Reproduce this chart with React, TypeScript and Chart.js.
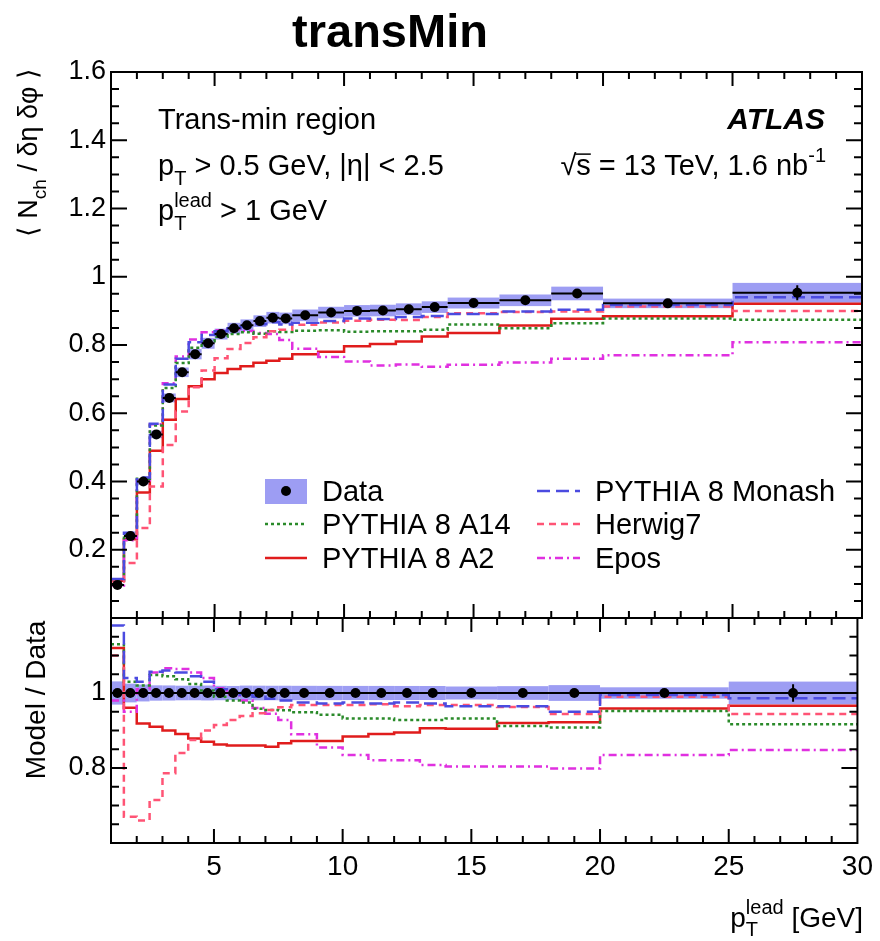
import React, { useEffect, useRef } from 'react';
import { Chart, registerables } from 'chart.js';
Chart.register(...registerables);

const FONT = '"Liberation Sans", Arial, Helvetica, sans-serif';
const FS = 29;
const TICK_FS = 27;

// ---------- data ----------
const binEdges = [1, 1.5, 2, 2.5, 3, 3.5, 4, 4.5, 5, 5.5, 6, 6.5, 7, 7.5, 8, 9, 10, 11, 12, 13, 14, 16, 18, 20, 25, 30];

const dataValues = [0.097, 0.24, 0.40, 0.538, 0.645, 0.72, 0.773, 0.805, 0.832, 0.849, 0.858, 0.870, 0.880, 0.878, 0.887, 0.895, 0.900, 0.901, 0.905, 0.911, 0.923, 0.931, 0.951, 0.922, 0.953];
const dataStat = [0.001, 0.001, 0.001, 0.002, 0.002, 0.002, 0.002, 0.002, 0.002, 0.002, 0.002, 0.003, 0.003, 0.003, 0.003, 0.003, 0.003, 0.004, 0.004, 0.005, 0.005, 0.006, 0.008, 0.008, 0.022];
const dataSyst = [0.003, 0.006, 0.009, 0.011, 0.013, 0.014, 0.015, 0.016, 0.016, 0.016, 0.017, 0.017, 0.017, 0.017, 0.017, 0.017, 0.017, 0.017, 0.017, 0.017, 0.016, 0.017, 0.020, 0.014, 0.029];

const monashTop = [0.114, 0.250, 0.412, 0.569, 0.684, 0.760, 0.808, 0.829, 0.840, 0.849, 0.854, 0.861, 0.867, 0.860, 0.865, 0.870, 0.878, 0.876, 0.882, 0.885, 0.891, 0.898, 0.903, 0.917, 0.940];
const a14Top = [0.110, 0.247, 0.408, 0.564, 0.674, 0.747, 0.792, 0.811, 0.824, 0.832, 0.837, 0.833, 0.840, 0.838, 0.842, 0.843, 0.839, 0.840, 0.840, 0.845, 0.860, 0.849, 0.864, 0.878, 0.874];
const a2Top = [0.109, 0.231, 0.368, 0.490, 0.581, 0.642, 0.679, 0.700, 0.718, 0.730, 0.738, 0.748, 0.754, 0.760, 0.773, 0.780, 0.796, 0.803, 0.810, 0.825, 0.835, 0.857, 0.877, 0.884, 0.921];
const herwigTop = [0.107, 0.161, 0.264, 0.385, 0.507, 0.605, 0.676, 0.725, 0.761, 0.788, 0.806, 0.823, 0.840, 0.845, 0.859, 0.866, 0.871, 0.874, 0.873, 0.882, 0.893, 0.897, 0.898, 0.913, 0.900];
const eposTop = [0.095, 0.228, 0.404, 0.568, 0.688, 0.766, 0.816, 0.837, 0.843, 0.846, 0.841, 0.835, 0.832, 0.815, 0.789, 0.765, 0.752, 0.740, 0.743, 0.736, 0.742, 0.749, 0.760, 0.770, 0.808];

const monashRatio = [1.18, 1.04, 1.03, 1.057, 1.06, 1.055, 1.045, 1.03, 1.01, 1.0, 0.995, 0.99, 0.985, 0.98, 0.975, 0.972, 0.975, 0.972, 0.975, 0.972, 0.965, 0.965, 0.95, 0.995, 0.986];
const a14Ratio = [1.13, 1.03, 1.02, 1.048, 1.045, 1.037, 1.024, 1.007, 0.99, 0.98, 0.975, 0.958, 0.955, 0.954, 0.949, 0.942, 0.932, 0.932, 0.928, 0.928, 0.932, 0.912, 0.908, 0.952, 0.917];
const a2Ratio = [1.12, 0.961, 0.919, 0.91, 0.90, 0.891, 0.879, 0.87, 0.863, 0.86, 0.86, 0.86, 0.857, 0.866, 0.872, 0.872, 0.884, 0.891, 0.895, 0.906, 0.905, 0.92, 0.922, 0.959, 0.966];
const herwigRatio = [1.10, 0.67, 0.66, 0.715, 0.786, 0.84, 0.875, 0.90, 0.915, 0.928, 0.939, 0.946, 0.955, 0.962, 0.968, 0.968, 0.968, 0.97, 0.965, 0.968, 0.968, 0.963, 0.944, 0.99, 0.944];
const eposRatio = [0.98, 0.95, 1.01, 1.055, 1.066, 1.064, 1.055, 1.04, 1.013, 0.996, 0.98, 0.96, 0.945, 0.928, 0.89, 0.855, 0.835, 0.821, 0.821, 0.808, 0.804, 0.804, 0.799, 0.835, 0.848];

const topYLabels = [0.2, 0.4, 0.6, 0.8, 1, 1.2, 1.4, 1.6];
const ratioYLabels = [0.8, 1];
const xTickLabels = [5, 10, 15, 20, 25, 30];

// ---------- style ----------
const BAND = '#9d9df3';
const models = [
  { key: 'monash', label: 'PYTHIA 8 Monash', top: monashTop, ratio: monashRatio, color: '#4b4be0', dash: [13, 6] },
  { key: 'herwig', label: 'Herwig7', top: herwigTop, ratio: herwigRatio, color: '#ff5475', dash: [7, 5] },
  { key: 'a14', label: 'PYTHIA 8 A14', top: a14Top, ratio: a14Ratio, color: '#2a8a2a', dash: [3, 3] },
  { key: 'epos', label: 'Epos', top: eposTop, ratio: eposRatio, color: '#e030e0', dash: [8, 4, 2, 4] },
  { key: 'a2', label: 'PYTHIA 8 A2', top: a2Top, ratio: a2Ratio, color: '#e01c1c', dash: [] as number[] },
];

const W = 880, H = 941;
const TOP_T = 72, SPLIT = 618, BOT_B = 843, PLOT_L = 111, PLOT_R = 862;

const centers = binEdges.slice(0, -1).map((e, i) => (e + binEdges[i + 1]) / 2);
const ratioOnes = dataValues.map((v) => v / v);
const ratioStat = dataStat.map((s, i) => s / dataValues[i]);
const ratioSyst = dataSyst.map((s, i) => s / dataValues[i]);

function hist(values: number[]) {
  const pts: { x: number; y: number }[] = [];
  values.forEach((v, i) => {
    pts.push({ x: binEdges[i], y: v });
    pts.push({ x: binEdges[i + 1], y: v });
  });
  return pts;
}

// ---------- rich text ----------
type Seg = { t?: string; sub?: string; sup?: string; over?: boolean; font?: string };
function richWidth(ctx: CanvasRenderingContext2D, segs: Seg[], size = FS) {
  let w = 0;
  for (const s of segs) {
    if (s.t !== undefined) {
      ctx.font = s.font || `${size}px ${FONT}`;
      w += ctx.measureText(s.t).width;
    } else {
      ctx.font = `${Math.round(size * 0.7)}px ${FONT}`;
      w += Math.max(s.sub ? ctx.measureText(s.sub).width : 0, s.sup ? ctx.measureText(s.sup).width : 0);
    }
  }
  return w;
}
function drawRich(ctx: CanvasRenderingContext2D, x: number, y: number, segs: Seg[], size = FS) {
  ctx.textAlign = 'left';
  ctx.textBaseline = 'alphabetic';
  let cx = x;
  for (const s of segs) {
    if (s.t !== undefined) {
      ctx.font = s.font || `${size}px ${FONT}`;
      ctx.fillText(s.t, cx, y);
      const w = ctx.measureText(s.t).width;
      if (s.over) {
        ctx.save();
        ctx.lineWidth = 1.5;
        ctx.beginPath();
        ctx.moveTo(cx - 1, y - size * 0.72);
        ctx.lineTo(cx + w, y - size * 0.72);
        ctx.stroke();
        ctx.restore();
      }
      cx += w;
    } else {
      ctx.font = `${Math.round(size * 0.7)}px ${FONT}`;
      let w = 0;
      if (s.sub) {
        ctx.fillText(s.sub, cx, y + size * 0.33);
        w = Math.max(w, ctx.measureText(s.sub).width);
      }
      if (s.sup) {
        ctx.fillText(s.sup, cx, y - size * 0.45);
        w = Math.max(w, ctx.measureText(s.sup).width);
      }
      cx += w;
    }
  }
  return cx - x;
}

// ---------- plugins ----------
function dataPlugin(vals: number[], syst: number[], stat: number[]) {
  return {
    id: 'dataBand',
    beforeDatasetsDraw(chart: any) {
      const { ctx, chartArea: a } = chart;
      const xs = chart.scales.x, ys = chart.scales.y;
      ctx.save();
      ctx.beginPath();
      ctx.rect(a.left, a.top, a.right - a.left, a.bottom - a.top);
      ctx.clip();
      ctx.fillStyle = BAND;
      vals.forEach((v, i) => {
        const x0 = xs.getPixelForValue(binEdges[i]);
        const x1 = xs.getPixelForValue(binEdges[i + 1]);
        const y0 = ys.getPixelForValue(v + syst[i]);
        const y1 = ys.getPixelForValue(v - syst[i]);
        ctx.fillRect(x0, y0, x1 - x0, y1 - y0);
      });
      ctx.restore();
    },
    afterDatasetsDraw(chart: any) {
      const { ctx } = chart;
      const xs = chart.scales.x, ys = chart.scales.y;
      ctx.save();
      ctx.strokeStyle = '#000';
      ctx.lineWidth = 2;
      ctx.beginPath();
      vals.forEach((v, i) => {
        const x0 = xs.getPixelForValue(binEdges[i]);
        const x1 = xs.getPixelForValue(binEdges[i + 1]);
        const xc = xs.getPixelForValue(centers[i]);
        const y = ys.getPixelForValue(v);
        ctx.moveTo(x0, y);
        ctx.lineTo(x1, y);
        ctx.moveTo(xc, ys.getPixelForValue(v - stat[i]));
        ctx.lineTo(xc, ys.getPixelForValue(v + stat[i]));
      });
      ctx.stroke();
      ctx.restore();
    },
  };
}

function framePlugin(yTicks: number[], majorY: number[]) {
  const xTicks = Array.from({ length: 30 }, (_, i) => i + 1);
  return {
    id: 'frame',
    afterDraw(chart: any) {
      const { ctx, chartArea: a } = chart;
      const xs = chart.scales.x, ys = chart.scales.y;
      ctx.save();
      ctx.strokeStyle = '#000';
      ctx.lineWidth = 2;
      ctx.strokeRect(a.left, a.top, a.right - a.left, a.bottom - a.top);
      ctx.beginPath();
      yTicks.forEach((v) => {
        const y = ys.getPixelForValue(v);
        if (y <= a.top + 1 || y >= a.bottom - 1) return;
        const len = majorY.some((m) => Math.abs(m - v) < 1e-6) ? 16 : 8;
        ctx.moveTo(a.left, y);
        ctx.lineTo(a.left + len, y);
        ctx.moveTo(a.right, y);
        ctx.lineTo(a.right - len, y);
      });
      xTicks.forEach((v) => {
        const x = xs.getPixelForValue(v);
        if (x <= a.left + 1 || x >= a.right - 1) return;
        const len = v % 5 === 0 ? 14 : 7;
        ctx.moveTo(x, a.bottom);
        ctx.lineTo(x, a.bottom - len);
        ctx.moveTo(x, a.top);
        ctx.lineTo(x, a.top + len);
      });
      ctx.stroke();
      ctx.restore();
    },
  };
}

const topTextPlugin = {
  id: 'topText',
  afterDraw(chart: any) {
    const ctx: CanvasRenderingContext2D = chart.ctx;
    ctx.save();
    ctx.fillStyle = '#000';
    ctx.strokeStyle = '#000';
    // title
    ctx.font = `bold 47px ${FONT}`;
    ctx.textAlign = 'center';
    ctx.textBaseline = 'alphabetic';
    ctx.fillText('transMin', 390, 47);

    // annotations
    drawRich(ctx, 158, 129, [{ t: 'Trans-min region' }]);
    drawRich(ctx, 158, 175, [{ t: 'p' }, { sub: 'T' }, { t: ' > 0.5 GeV, |η| < 2.5' }]);
    drawRich(ctx, 158, 220, [{ t: 'p' }, { sub: 'T', sup: 'lead' }, { t: ' > 1 GeV' }]);
    ctx.font = `italic bold 30px ${FONT}`;
    ctx.textAlign = 'right';
    ctx.fillText('ATLAS', 825, 129);
    const sq: Seg[] = [{ t: '√' }, { t: 's', over: true }, { t: ' = 13 TeV, 1.6 nb' }, { sup: '-1' }];
    const sw = richWidth(ctx, sq);
    drawRich(ctx, 826 - sw, 175, sq);

    // y title
    ctx.save();
    ctx.translate(37, 68);
    ctx.rotate(-Math.PI / 2);
    const yt: Seg[] = [{ t: '⟨ N' }, { sub: 'ch' }, { t: ' / δη δφ ⟩' }];
    const yw = richWidth(ctx, yt, 27);
    drawRich(ctx, -yw, 0, yt, 27);
    ctx.restore();

    // legend
    const rows = [491, 524, 558];
    const legendItems = [
      { m: null as any, col: 0, row: 0 },
      { m: models.find((m) => m.key === 'a14'), col: 0, row: 1 },
      { m: models.find((m) => m.key === 'a2'), col: 0, row: 2 },
      { m: models.find((m) => m.key === 'monash'), col: 1, row: 0 },
      { m: models.find((m) => m.key === 'herwig'), col: 1, row: 1 },
      { m: models.find((m) => m.key === 'epos'), col: 1, row: 2 },
    ];
    const cols = [
      { x0: 265, x1: 307, tx: 322 },
      { x0: 537, x1: 580, tx: 595 },
    ];
    legendItems.forEach((it) => {
      const c = cols[it.col];
      const y = rows[it.row];
      if (!it.m) {
        ctx.fillStyle = BAND;
        ctx.fillRect(c.x0, y - 12, c.x1 - c.x0, 25);
        ctx.fillStyle = '#000';
        ctx.beginPath();
        ctx.arc((c.x0 + c.x1) / 2, y, 5, 0, Math.PI * 2);
        ctx.fill();
        drawRich(ctx, c.tx, y + 10, [{ t: 'Data' }]);
      } else {
        ctx.save();
        ctx.strokeStyle = it.m.color;
        ctx.lineWidth = 2.5;
        ctx.setLineDash(it.m.dash);
        ctx.beginPath();
        ctx.moveTo(c.x0, y);
        ctx.lineTo(c.x1, y);
        ctx.stroke();
        ctx.restore();
        ctx.fillStyle = '#000';
        drawRich(ctx, c.tx, y + 10, [{ t: it.m.label }]);
      }
    });
    ctx.restore();
  },
};

const botTextPlugin = {
  id: 'botText',
  afterDraw(chart: any) {
    const ctx: CanvasRenderingContext2D = chart.ctx;
    ctx.save();
    ctx.fillStyle = '#000';
    ctx.save();
    ctx.translate(45, 700);
    ctx.rotate(-Math.PI / 2);
    const t: Seg[] = [{ t: 'Model / Data' }];
    const w = richWidth(ctx, t, 28);
    drawRich(ctx, -w / 2, 0, t, 28);
    ctx.restore();
    const xt: Seg[] = [{ t: 'p' }, { sub: 'T', sup: 'lead' }, { t: ' [GeV]' }];
    const xw = richWidth(ctx, xt, 28);
    drawRich(ctx, 863 - xw, 927, xt, 28);
    ctx.restore();
  },
};

// ---------- configs ----------
function fmt(v: number) {
  return String(Math.round(v * 10) / 10);
}

function xScale(display: boolean) {
  return {
    type: 'linear' as const,
    min: 1,
    max: 30,
    display,
    grid: { display: false, drawTicks: false },
    border: { display: false },
    ticks: {
      stepSize: 1,
      autoSkip: false,
      maxRotation: 0,
      padding: 7,
      color: '#000',
      font: { size: 28, family: FONT },
      callback: (v: any) => (xTickLabels.some((l) => Math.abs(l - v) < 1e-6) ? String(Math.round(v)) : ''),
    },
    afterFit: (s: any) => {
      s.height = display ? H - BOT_B : 0;
    },
  };
}

function yScale(min: number, max: number, labels: number[]) {
  return {
    type: 'linear' as const,
    min,
    max,
    grid: { display: false, drawTicks: false },
    border: { display: false },
    ticks: {
      stepSize: 0.2,
      autoSkip: false,
      padding: 5,
      color: '#000',
      font: { size: TICK_FS, family: FONT },
      callback: (v: any) => (labels.some((l) => Math.abs(l - v) < 1e-6) ? fmt(v) : ''),
    },
    afterFit: (s: any) => {
      s.width = PLOT_L;
    },
  };
}

function lineDatasets(which: 'top' | 'ratio', dots: number[]) {
  const ds: any[] = [
    {
      label: 'Data',
      data: centers.map((c, i) => ({ x: c, y: dots[i] })),
      showLine: false,
      pointRadius: 5,
      pointBackgroundColor: '#000',
      pointBorderWidth: 0,
    },
  ];
  models.forEach((m) => {
    ds.push({
      label: m.label,
      data: hist(which === 'top' ? m.top : m.ratio),
      borderColor: m.color,
      borderWidth: 2.5,
      borderDash: m.dash,
      pointRadius: 0,
      fill: false,
      tension: 0,
    });
  });
  return ds;
}

const topYTicks = Array.from({ length: 33 }, (_, i) => i * 0.05);
const ratioYTicks = Array.from({ length: 13 }, (_, i) => 0.6 + i * 0.05);

export default function App() {
  const topRef = useRef<HTMLCanvasElement>(null);
  const botRef = useRef<HTMLCanvasElement>(null);

  useEffect(() => {
    Chart.defaults.font.family = FONT;
    const top = new Chart(topRef.current as HTMLCanvasElement, {
      type: 'line',
      data: { datasets: lineDatasets('top', dataValues) },
      options: {
        responsive: false,
        animation: false,
        events: [],
        layout: { padding: { top: TOP_T, right: W - PLOT_R, bottom: H - SPLIT, left: 0 } },
        plugins: { legend: { display: false }, tooltip: { enabled: false }, title: { display: false } },
        scales: {
          x: xScale(false),
          y: yScale(0, 1.6, topYLabels),
        },
      } as any,
      plugins: [dataPlugin(dataValues, dataSyst, dataStat), framePlugin(topYTicks, [0.2, 0.4, 0.6, 0.8, 1, 1.2, 1.4]), topTextPlugin],
    });
    const bot = new Chart(botRef.current as HTMLCanvasElement, {
      type: 'line',
      data: { datasets: lineDatasets('ratio', ratioOnes) },
      options: {
        responsive: false,
        animation: false,
        events: [],
        layout: { padding: { top: SPLIT, right: W - PLOT_R, bottom: 0, left: 0 } },
        plugins: { legend: { display: false }, tooltip: { enabled: false }, title: { display: false } },
        scales: {
          x: xScale(true),
          y: yScale(0.6, 1.2, ratioYLabels),
        },
      } as any,
      plugins: [dataPlugin(ratioOnes, ratioSyst, ratioStat), framePlugin(ratioYTicks, [0.8, 1]), botTextPlugin],
    });
    return () => {
      top.destroy();
      bot.destroy();
    };
  }, []);

  return (
    <div style={{ position: 'absolute', left: 0, top: 0, width: W, height: H, background: '#fff' }}>
      <canvas ref={topRef} width={W} height={H} style={{ position: 'absolute', left: 0, top: 0 }} />
      <canvas ref={botRef} width={W} height={H} style={{ position: 'absolute', left: 0, top: 0 }} />
    </div>
  );
}
